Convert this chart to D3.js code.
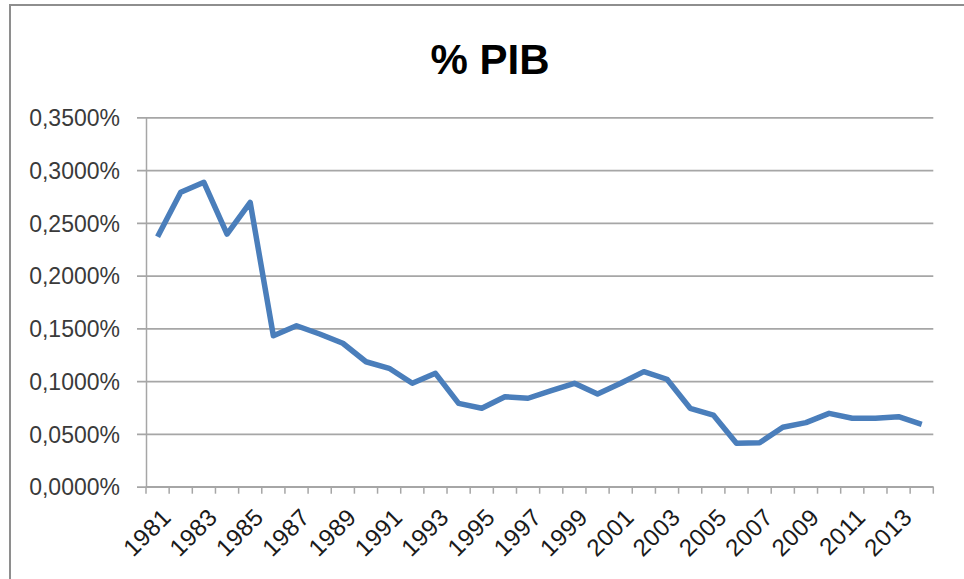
<!DOCTYPE html>
<html>
<head>
<meta charset="utf-8">
<script src="https://cdn.jsdelivr.net/npm/d3@7"></script>
<style>
  body { margin: 0; background: #fff; }
  svg { display: block; }
</style>
</head>
<body>
<script>
// series, values in percent of GDP
var years = [1981,1982,1983,1984,1985,1986,1987,1988,1989,1990,1991,1992,1993,1994,1995,1996,1997,
             1998,1999,2000,2001,2002,2003,2004,2005,2006,2007,2008,2009,2010,2011,2012,2013,2014];
var values = [0.2369,0.2789,0.2884,0.2394,0.2694,0.1430,0.1525,0.1447,0.1359,0.1184,0.1122,0.0980,0.1074,
              0.0790,0.0743,0.0853,0.0838,0.0910,0.0980,0.0878,0.0980,0.1090,0.1018,0.0743,0.0679,0.0411,
              0.0417,0.0563,0.0607,0.0695,0.0648,0.0648,0.0663,0.0591];
var yTicks = [0,0.05,0.10,0.15,0.20,0.25,0.30,0.35];
var title = "% PIB";

var W = 964, H = 579;
var plotL = 146, plotR = 933.3, plotT = 117.3, plotB = 486.7;
var font = '"Liberation Sans", Arial, sans-serif';

var svg = d3.select('body').append('svg').attr('width',W).attr('height',H);

// outer chart frame
svg.append('rect').attr('x',10).attr('y',5).attr('width',1000).attr('height',700)
   .attr('fill','#fff').attr('stroke','#8e8e8e').attr('stroke-width',2);

var x = d3.scaleBand().domain(years).range([plotL,plotR]).padding(0),
    y = d3.scaleLinear().domain([0,0.35]).range([plotB,plotT]);

var fmt = function(v){ return d3.format('.4f')(v).replace('.',',') + '%'; };

// gridlines + y ticks
var yAxis = d3.axisLeft(y).tickValues(yTicks).tickFormat(fmt).tickSize(-(plotR-plotL)).tickSizeOuter(0);
var gy = svg.append('g').attr('transform','translate('+plotL+',0)').call(yAxis);
gy.select('.domain').attr('stroke','#a6a6a6').attr('stroke-width',1.5);
gy.selectAll('.tick line').attr('stroke','#a6a6a6').attr('stroke-width',1.8).attr('x1',-9);
gy.selectAll('.tick text').attr('fill','#3a3a3a').attr('x',-26)
  .style('font-family',font).style('font-size','23px').attr('dy','0.36em');

// x axis, ticks between categories
var gx = svg.append('g').attr('transform','translate(0,'+plotB+')');
gx.append('line').attr('x1',plotL).attr('x2',plotR).attr('stroke','#a6a6a6').attr('stroke-width',1.5);
var bounds = years.map(function(d){ return x(d); }).concat([plotR]);
gx.selectAll('line.tk').data(bounds).enter().append('line').attr('class','tk')
  .attr('x1',function(d){return d;}).attr('x2',function(d){return d;})
  .attr('y1',0).attr('y2',7).attr('stroke','#a6a6a6').attr('stroke-width',1.5);
gx.selectAll('text').data(years.filter(function(d,i){ return i%2==0; })).enter().append('text')
  .attr('transform',function(d){ return 'translate('+(x(d)+x.bandwidth()/2+3)+',20) rotate(-45)'; })
  .attr('text-anchor','end').attr('dy','0.7em')
  .attr('fill','#1a1a1a').attr('letter-spacing','0.5px')
  .style('font-family',font).style('font-size','24px')
  .text(function(d){ return d; });

// line
var line = d3.line().x(function(d,i){ return x(years[i]) + x.bandwidth()/2; }).y(function(d){ return y(d); });
svg.append('path').datum(values).attr('d',line).attr('fill','none')
   .attr('stroke','#4a7ebb').attr('stroke-width',5.5).attr('stroke-linejoin','round');

// title
svg.append('text').attr('x',490).attr('y',74).attr('text-anchor','middle')
   .style('font-family',font).style('font-weight','bold').style('font-size','42px')
   .attr('fill','#000').text(title);
</script>
</body>
</html>
